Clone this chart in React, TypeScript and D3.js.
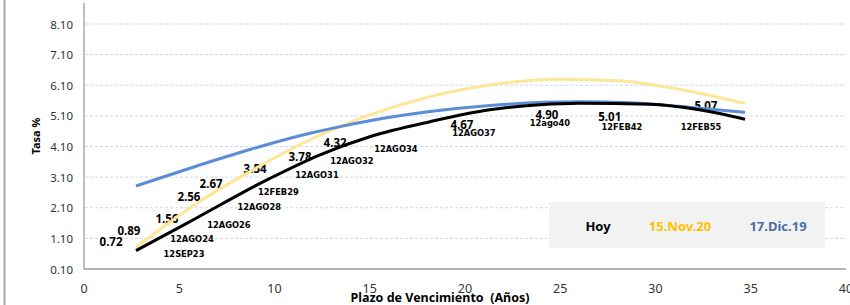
import React from "react";
import * as d3 from "d3";

const yTicks = [0.1, 1.1, 2.1, 3.1, 4.1, 5.1, 6.1, 7.1, 8.1];
const xTicks = [0, 5, 10, 15, 20, 25, 30, 35, 40];

// Hoy (black)
const hoyX = [2.73, 5.39, 9.76, 12.39, 15.0, 18.16, 21.3, 23.94, 26.0, 29.7, 32.3, 34.7];
const hoyY = [0.7, 1.59, 3.06, 3.83, 4.42, 4.91, 5.3, 5.46, 5.51, 5.48, 5.3, 4.99];
// 15.Nov.20 (yellow)
const novX = [2.73, 6.19, 8.71, 11.86, 13.44, 15.0, 18.16, 21.3, 25.0, 28.1, 30.2, 32.3, 34.7];
const novY = [0.81, 2.35, 3.28, 4.32, 4.75, 5.13, 5.73, 6.11, 6.3, 6.25, 6.08, 5.84, 5.51];
// 17.Dic.19 (blue)
const dicX = [2.73, 5.56, 8.71, 11.86, 13.44, 15.0, 18.16, 21.3, 26.0, 28.7, 32.3, 34.7];
const dicY = [2.81, 3.39, 4.0, 4.53, 4.75, 4.94, 5.24, 5.44, 5.56, 5.53, 5.35, 5.22];

// value labels: [text, x(years), y(rate)]
const valueLabels: [string, number, number][] = [
  ["0.72", 1.42, 0.86],
  ["0.89", 2.36, 1.21],
  ["1.56", 4.35, 1.6],
  ["2.56", 5.51, 2.31],
  ["2.67", 6.67, 2.73],
  ["3.54", 8.98, 3.25],
  ["3.78", 11.34, 3.64],
  ["4.32", 13.18, 4.1],
  ["4.67", 19.84, 4.68],
  ["4.90", 24.3, 5.0],
  ["5.01", 27.6, 4.93],
  ["5.07", 32.65, 5.29],
];
const dateLabels: [string, number, number][] = [
  ["12SEP23", 5.25, 0.5],
  ["12AGO24", 5.67, 0.99],
  ["12AGO26", 7.61, 1.45],
  ["12AGO28", 9.2, 2.04],
  ["12FEB29", 10.2, 2.53],
  ["12AGO31", 12.23, 3.08],
  ["12AGO32", 14.06, 3.54],
  ["12AGO34", 16.37, 3.93],
  ["12AGO37", 20.47, 4.45],
  ["12ago40", 24.46, 4.77],
  ["12FEB42", 28.24, 4.64],
  ["12FEB55", 32.39, 4.64],
];

const legendItems: [string, string][] = [
  ["Hoy", "#000000"],
  ["15.Nov.20", "#FFC000"],
  ["17.Dic.19", "#4A6EA4"],
];

export default function App() {
  const W = 850, H = 305;
  const x = d3.scaleLinear().domain([0, 40]).range([84, 846]);
  const y = d3.scaleLinear().domain([0.1, 8.1]).range([269, 24]);
  const line = d3
    .line<[number, number]>()
    .x((d) => x(d[0]))
    .y((d) => y(d[1]))
    .curve(d3.curveMonotoneX);
  const zip = (xs: number[], ys: number[]) => xs.map((v, i) => [v, ys[i]] as [number, number]);
  const series = [
    { d: zip(novX, novY), c: "#FFE596" },
    { d: zip(dicX, dicY), c: "#5A8DD6" },
    { d: zip(hoyX, hoyY), c: "#000000" },
  ];
  const sans = "'Noto Sans', 'Open Sans', sans-serif";
  const dv = "'DejaVu Sans', Verdana, sans-serif";
  const legendXs = [598, 680, 778];
  return (
    <svg
      width={W}
      height={H}
      style={{ position: "absolute", left: 0, top: 0, background: "#fff" }}
    >
      <line x1={4.5} x2={4.5} y1={0} y2={H} stroke="#A6A6A6" strokeWidth={2} />
      {yTicks.slice(1).map((t) => (
        <line
          key={t}
          x1={85}
          x2={846}
          y1={y(t)}
          y2={y(t)}
          stroke="#C9D7EE"
          strokeWidth={1}
          strokeDasharray="3,2"
        />
      ))}
      <line x1={84} x2={84} y1={3} y2={269.5} stroke="#9E9E9E" strokeWidth={1.3} />
      <line x1={84} x2={846} y1={269} y2={269} stroke="#9E9E9E" strokeWidth={1.3} />
      {yTicks.map((t) => (
        <text
          key={t}
          x={73}
          y={y(t) + 4.5}
          textAnchor="end"
          fontFamily={sans}
          fontSize={11.5}
          fill="#333"
        >
          {t.toFixed(2)}
        </text>
      ))}
      {xTicks.map((t) => (
        <text
          key={t}
          x={x(t)}
          y={293}
          textAnchor="middle"
          fontFamily={sans}
          fontSize={12.5}
          fill="#333"
        >
          {t}
        </text>
      ))}
      <text
        transform={`translate(40,136) rotate(-90)`}
        textAnchor="middle"
        fontFamily={sans}
        fontWeight="bold"
        fontSize={11}
        fill="#000"
      >
        Tasa %
      </text>
      <text
        x={440}
        y={302}
        textAnchor="middle"
        fontFamily={sans}
        fontWeight="bold"
        fontSize={12.5}
        fill="#000"
        style={{ whiteSpace: "pre" }}
      >
        {"Plazo de Vencimiento  (Años)"}
      </text>
      <rect x={549} y={202} width={276} height={46} fill="#F2F2F2" />
      {legendItems.map(([t, c], i) => (
        <text
          key={t}
          x={legendXs[i]}
          y={231}
          textAnchor="middle"
          fontFamily={sans}
          fontWeight="bold"
          fontSize={13}
          fill={c}
        >
          {t}
        </text>
      ))}
      {valueLabels.map(([t, vx, vy]) => (
        <text
          key={t}
          x={x(vx)}
          y={y(vy)}
          textAnchor="middle"
          fontFamily={sans}
          fontWeight="bold"
          fontSize={11.5}
          fill="#000"
        >
          {t}
        </text>
      ))}
      {dateLabels.map(([t, vx, vy]) => (
        <text
          key={t}
          x={x(vx)}
          y={y(vy)}
          textAnchor="middle"
          fontFamily={dv}
          fontWeight="bold"
          fontSize={8.3}
          fill="#000"
        >
          {t}
        </text>
      ))}
      {series.map((s, i) => (
        <path key={i} d={line(s.d) || ""} fill="none" stroke={s.c} strokeWidth={3} />
      ))}
    </svg>
  );
}
